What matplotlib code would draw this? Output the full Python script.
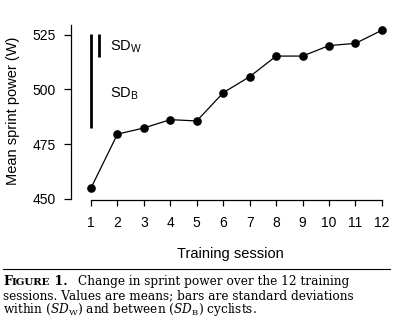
import matplotlib.pyplot as plt

plt.rcParams['font.family'] = ['Liberation Sans', 'DejaVu Sans']
plt.rcParams['mathtext.fontset'] = 'custom'
plt.rcParams['mathtext.rm'] = 'DejaVu Serif'
plt.rcParams['mathtext.it'] = 'DejaVu Serif:italic'
plt.rcParams['mathtext.sf'] = 'Liberation Sans'

# Mean sprint power per session
sessions = [1, 2, 3, 4, 5, 6, 7, 8, 9, 10, 11, 12]
power = [455.0, 479.6, 482.4, 486.2, 485.6, 498.5, 505.8, 515.2, 515.2, 520.0, 521.0, 527.0]

# Standard deviations shown as reference bars
sd_top = 525.3
sd_between = 42.7
sd_within = 10.5
y_ticks = [450, 475, 500, 525]

W, H = 403, 323
fig = plt.figure(figsize=(W / 100, H / 100), dpi=100)

# axes box in pixels (left, top, right, bottom)
left, top, right, bottom = 71, 22, 390, 200
ax = fig.add_axes([left / W, 1 - bottom / H, (right - left) / W, (bottom - top) / H])

ax.plot(sessions, power, color='black', lw=0.9, marker='o', ms=5.2, zorder=3)

ax.vlines(1, sd_top - sd_between, sd_top, color='black', lw=2.0)
ax.vlines(1.32, sd_top - sd_within, sd_top, color='black', lw=2.0)
ax.text(1.72, 519.5, r'$\mathsf{SD}_\mathsf{W}$', fontsize=10.5, va='center', ha='left')
ax.text(1.72, 498.0, r'$\mathsf{SD}_\mathsf{B}$', fontsize=10.5, va='center', ha='left')

ax.set_xlim(0.244, 12.305)
ax.set_ylim(449.54, 530.75)
ax.set_xticks(sessions)
ax.set_yticks(y_ticks)

for side in ('top', 'right'):
    ax.spines[side].set_visible(False)
ax.spines['left'].set_bounds(450, 529.4)
ax.spines['bottom'].set_bounds(1, 12)
for side in ('left', 'bottom'):
    ax.spines[side].set_linewidth(0.9)
ax.tick_params(axis='both', direction='out', width=0.9, labelsize=10)
ax.tick_params(axis='y', length=5, pad=6)
ax.tick_params(axis='x', length=4.5, pad=7)

ax.set_xlabel('Training session', fontsize=10.5, labelpad=12)
ax.set_ylabel('Mean sprint power (W)', fontsize=10.5, labelpad=9)

# caption block
fig.add_artist(plt.Line2D([3 / W, 390 / W], [1 - 269 / H, 1 - 269 / H], color='black', lw=0.8))

serif = 'DejaVu Serif'
cap_size = 8.7
x0 = 3 / W
base1 = 1 - 285 / H
renderer = fig.canvas.get_renderer()


def put(x, s, size, **kw):
    t = fig.text(x, base1, s, family=serif, fontsize=size, va='baseline', **kw)
    return t.get_window_extent(renderer).x1 / W


x = put(x0, 'F', cap_size * 1.05, weight='bold')
x = put(x, 'IGURE', cap_size * 0.85, weight='bold')
x = put(x, ' 1.', cap_size * 1.05, weight='bold')
put(x + 10 / W, 'Change in sprint power over the 12 training', cap_size)
fig.text(x0, base1 - 14 / H, 'sessions. Values are means; bars are standard deviations',
         family=serif, fontsize=cap_size, va='baseline')
fig.text(x0, base1 - 28 / H,
         r'within ($\mathit{SD}_{\mathrm{W}}$) and between ($\mathit{SD}_{\mathrm{B}}$) cyclists.',
         family=serif, fontsize=cap_size, va='baseline')

fig.savefig('out.png', dpi=100)
